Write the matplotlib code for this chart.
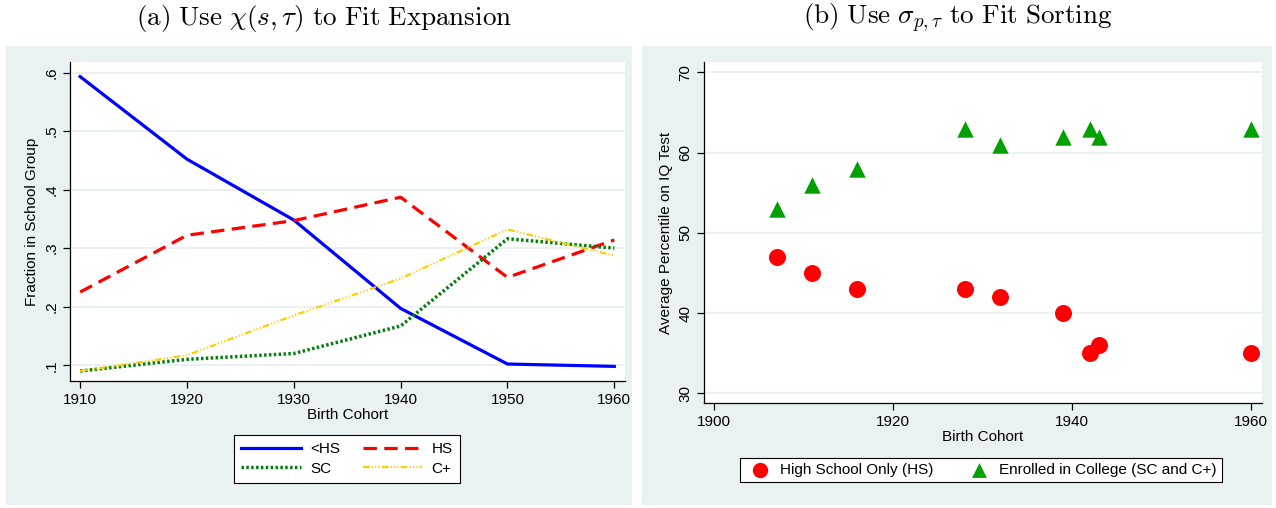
import matplotlib
matplotlib.use('Agg')
import matplotlib.pyplot as plt
from matplotlib.patches import Rectangle

# data, panel (a)
cohorts = [1910, 1920, 1930, 1940, 1950, 1960]
less_hs = [0.593, 0.452, 0.348, 0.197, 0.102, 0.098]
hs = [0.225, 0.322, 0.347, 0.387, 0.250, 0.314]
sc = [0.090, 0.110, 0.120, 0.167, 0.316, 0.300]
cplus = [0.090, 0.117, 0.185, 0.248, 0.332, 0.287]

# data, panel (b)
birth_years = [1907, 1911, 1916, 1928, 1932, 1939, 1942, 1943, 1960]
iq_hs = [47, 45, 43, 43, 42, 40, 35, 36, 35]
iq_college = [53, 56, 58, 63, 61, 62, 63, 62, 63]

W, H = 1276, 508
plt.rcParams['font.family'] = ['Liberation Sans', 'DejaVu Sans']
plt.rcParams['mathtext.fontset'] = 'cm'

fig = plt.figure(figsize=(W / 100, H / 100), dpi=100)
bg = '#EAF1F3'
gridc = '#E6EFF1'

def box(x0, y0, x1, y1):
    # pixel box (from top-left) -> figure fraction
    return [x0 / W, 1 - y1 / H, (x1 - x0) / W, (y1 - y0) / H]

for x0, x1 in [(6, 632), (642, 1272)]:
    b = box(x0, 46, x1, 505)
    fig.patches.append(Rectangle((b[0], b[1]), b[2], b[3], transform=fig.transFigure,
                                 facecolor=bg, edgecolor='none', zorder=-10))

fig.text(324 / W, 1 - 18 / H, r'$\mathrm{(a)\ Use\ }\chi(s,\tau)\mathrm{\ to\ Fit\ Expansion}$',
         ha='center', va='center', fontsize=19.5)
fig.text(958 / W, 1 - 18 / H, r'$\mathrm{(b)\ Use\ }\sigma_{p,\tau}\mathrm{\ to\ Fit\ Sorting}$',
         ha='center', va='center', fontsize=19.5)

def style(ax):
    ax.set_facecolor('white')
    for s in ['top', 'right']:
        ax.spines[s].set_visible(False)
    ax.spines['left'].set_linewidth(0.9)
    ax.spines['bottom'].set_linewidth(0.9)
    ax.tick_params(direction='out', length=5, width=0.9, labelsize=11)
    ax.grid(axis='y', color=gridc, linewidth=1.2)
    ax.set_axisbelow(True)
    for t in ax.get_yticklabels():
        t.set_rotation(90)
        t.set_va('center')

# panel (a)
ax1 = fig.add_axes(box(70, 62, 625, 381))
l1, = ax1.plot(cohorts, less_hs, color='#0000FF', lw=2.3, label='<HS')
l2, = ax1.plot(cohorts, hs, color='#FF0000', lw=2.3, linestyle=(0, (4.2, 2.3)), label='HS')
l3, = ax1.plot(cohorts, sc, color='#00800A', lw=2.5, linestyle=(0, (0.7, 0.7)), label='SC')
l4, = ax1.plot(cohorts, cplus, color='#FFCC00', lw=1.6,
               linestyle=(0, (3, 1, 0.5, 1, 0.5, 1, 0.5, 1)), label='C+')
ax1.set_xlim(1909.05, 1961)
ax1.set_ylim(0.073, 0.618)
ax1.set_xticks(cohorts)
ax1.set_yticks([0.1, 0.2, 0.3, 0.4, 0.5, 0.6])
ax1.set_yticklabels(['.1', '.2', '.3', '.4', '.5', '.6'])
ax1.set_xlabel('Birth Cohort', fontsize=11, labelpad=1)
ax1.set_ylabel('Fraction in School Group', fontsize=11, labelpad=4)
style(ax1)
leg1 = fig.legend([l1, l3, l2, l4], ['<HS', 'SC', 'HS', 'C+'], ncol=2, loc='center',
                  bbox_to_anchor=(347 / W, 1 - 459 / H), frameon=True, fancybox=False,
                  edgecolor='black', facecolor='white', framealpha=1, fontsize=11,
                  handlelength=3.9, columnspacing=1.5, handletextpad=0.6,
                  labelspacing=0.35, borderpad=0.45)
leg1.get_frame().set_linewidth(0.8)

# panel (b)
ax2 = fig.add_axes(box(704, 62, 1262, 403))
ax2.scatter(birth_years, iq_hs, s=150, color='#FF0000', marker='o', linewidths=0,
            label='High School Only (HS)', zorder=3)
ax2.scatter(birth_years, iq_college, s=140, color='#00A000', marker='^', linewidths=0,
            label='Enrolled in College (SC and C+)', zorder=3)
ax2.set_xlim(1898.9, 1961.2)
ax2.set_ylim(28.8, 71.3)
ax2.set_xticks([1900, 1920, 1940, 1960])
ax2.set_yticks([30, 40, 50, 60, 70])
ax2.set_xlabel('Birth Cohort', fontsize=11, labelpad=1)
ax2.set_ylabel('Average Percentile on IQ Test', fontsize=11, labelpad=4)
style(ax2)
leg2 = fig.legend(*ax2.get_legend_handles_labels(), ncol=2, loc='center',
                  bbox_to_anchor=(981 / W, 1 - 470 / H), frameon=True, fancybox=False,
                  edgecolor='black', facecolor='white', framealpha=1, fontsize=11,
                  handletextpad=0.3, columnspacing=2.0, borderpad=0.35, markerscale=0.9)
leg2.get_frame().set_linewidth(0.8)

fig.savefig('out.png', dpi=100)
